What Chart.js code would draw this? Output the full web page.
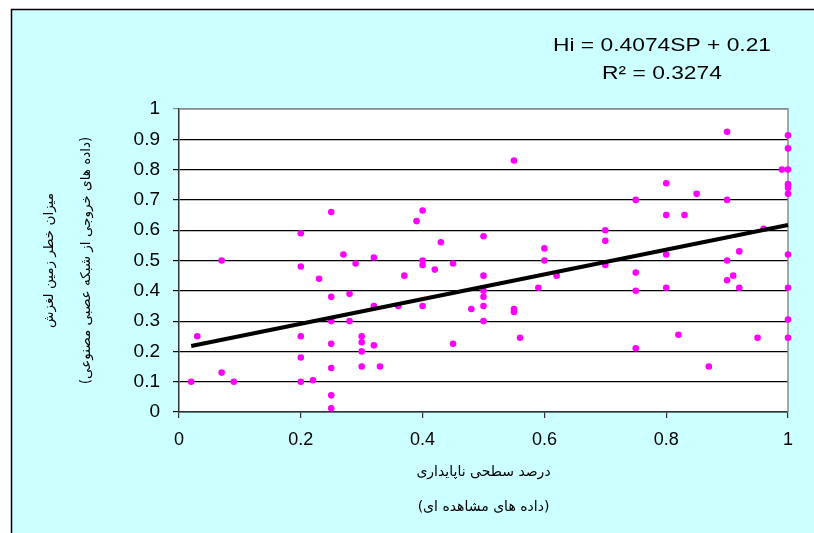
<!DOCTYPE html>
<html>
<head>
<meta charset="utf-8">
<script src="https://cdn.jsdelivr.net/npm/chart.js@4.4.1/dist/chart.umd.min.js"></script>
<style>
  html, body { margin: 0; padding: 0; background: #ffffff; }
  #wrap { width: 814px; height: 533px; position: relative; }
</style>
</head>
<body>
<div id="wrap"><canvas id="c"></canvas></div>
<script>
// ---- data ----
const spValues = [
  0.03, 0.02, 0.07, 0.07, 0.09, 0.20, 0.20, 0.20, 0.20, 0.20,
  0.22, 0.23, 0.25, 0.25, 0.25, 0.25, 0.25, 0.25, 0.25, 0.27,
  0.29, 0.28, 0.28, 0.30, 0.30, 0.30, 0.30, 0.32, 0.32, 0.32,
  0.33, 0.36, 0.37, 0.39, 0.40, 0.40, 0.40, 0.40, 0.42, 0.43,
  0.45, 0.45, 0.48, 0.50, 0.50, 0.50, 0.50, 0.50, 0.50, 0.55,
  0.55, 0.55, 0.56, 0.59, 0.60, 0.60, 0.62, 0.70, 0.70, 0.70,
  0.75, 0.75, 0.75, 0.75, 0.80, 0.80, 0.80, 0.80, 0.82, 0.83,
  0.85, 0.87, 0.90, 0.90, 0.90, 0.90, 0.91, 0.92, 0.92, 0.95,
  0.96, 0.99, 1.00, 1.00, 1.00, 1.00, 1.00, 1.00, 1.00, 1.00,
  1.00, 1.00
];
const hiValues = [
  0.25, 0.10, 0.50, 0.13, 0.10, 0.59, 0.48, 0.25, 0.18, 0.10,
  0.105, 0.44, 0.66, 0.38, 0.30, 0.225, 0.145, 0.055, 0.012, 0.52,
  0.49, 0.39, 0.30, 0.25, 0.23, 0.20, 0.15, 0.51, 0.35, 0.22,
  0.15, 0.35, 0.45, 0.63, 0.665, 0.50, 0.485, 0.35, 0.47, 0.56,
  0.49, 0.225, 0.34, 0.58, 0.45, 0.40, 0.38, 0.35, 0.30, 0.83,
  0.34, 0.33, 0.245, 0.41, 0.54, 0.50, 0.45, 0.60, 0.565, 0.485,
  0.70, 0.46, 0.40, 0.21, 0.755, 0.65, 0.52, 0.41, 0.255, 0.65,
  0.72, 0.15, 0.925, 0.70, 0.50, 0.435, 0.45, 0.53, 0.41, 0.245,
  0.605, 0.80, 0.913, 0.87, 0.80, 0.752, 0.74, 0.72, 0.52, 0.41,
  0.305, 0.245
];
const trendX = [0.02, 1.00];
const trendY = [0.218, 0.617];
const xTickLabels = ['0', '0.2', '0.4', '0.6', '0.8', '1'];
const yTickLabels = ['0', '0.1', '0.2', '0.3', '0.4', '0.5', '0.6', '0.7', '0.8', '0.9', '1'];
const xTitle = ['درصد سطحی ناپایداری', '(داده های مشاهده ای)'];
const yTitle = ['میزان خطر زمین لغزش', '(داده های خروجی از شبکه عصبی مصنوعی)'];
const equationLines = ['Hi = 0.4074SP + 0.21', 'R\u00B2 = 0.3274'];

// ---- build chart ----
const scatterPts = spValues.map((v, i) => ({ x: v, y: hiValues[i] }));
const trendPts = trendX.map((v, i) => ({ x: v, y: trendY[i] }));

const bgPlugin = {
  id: 'bg',
  beforeDraw(chart) {
    const { ctx, width, height, chartArea: a } = chart;
    ctx.save();
    ctx.fillStyle = '#ffffff';
    ctx.fillRect(0, 0, width, height);
    ctx.fillStyle = '#CCFFFF';
    ctx.fillRect(11, 9, width - 11, height - 9);
    ctx.strokeStyle = '#000000';
    ctx.lineWidth = 1.5;
    ctx.beginPath();
    ctx.moveTo(11.5, height);
    ctx.lineTo(11.5, 9.5);
    ctx.lineTo(width, 9.5);
    ctx.stroke();
    ctx.fillStyle = '#ffffff';
    ctx.fillRect(a.left, a.top, a.right - a.left, a.bottom - a.top);
    ctx.restore();
  },
  beforeDatasetsDraw(chart) {
    const { ctx, chartArea: a } = chart;
    ctx.save();
    ctx.strokeStyle = '#8c8c8c';
    ctx.lineWidth = 1.5;
    ctx.beginPath();
    ctx.moveTo(a.left, a.top);
    ctx.lineTo(a.right, a.top);
    ctx.lineTo(a.right, a.bottom);
    ctx.stroke();
    ctx.restore();
  },
  afterDraw(chart) {
    const { ctx, chartArea: a } = chart;
    ctx.save();
    ctx.fillStyle = '#000000';
    ctx.font = '19px "Liberation Sans", Arial, sans-serif';
    ctx.textAlign = 'center';
    ctx.textBaseline = 'middle';
    const cx = a.right - 126;
    const ys = [a.top - 63, a.top - 35];
    equationLines.forEach((t, i) => {
      ctx.save();
      ctx.translate(cx, ys[i]);
      ctx.scale(1.2, 1);
      ctx.fillText(t, 0, 0);
      ctx.restore();
    });
    ctx.restore();
  }
};

new Chart(document.getElementById('c'), {
  type: 'scatter',
  data: {
    datasets: [
      {
        type: 'line',
        data: trendPts,
        borderColor: '#000000',
        borderWidth: 4,
        pointRadius: 0,
        fill: false,
        order: 0,
        clip: false
      },
      {
        data: scatterPts,
        backgroundColor: '#FF00FF',
        borderColor: '#FF00FF',
        borderWidth: 0,
        pointRadius: 3.3,
        pointStyle: 'circle',
        order: 1,
        clip: false
      }
    ]
  },
  options: {
    responsive: true,
    maintainAspectRatio: false,
    animation: false,
    events: [],
    layout: { padding: { left: 0, right: 26, top: 109, bottom: 0 } },
    plugins: { legend: { display: false }, tooltip: { enabled: false } },
    scales: {
      x: {
        type: 'linear',
        min: 0, max: 1,
        afterFit(s) { s.height = 121; },
        ticks: {
          stepSize: 0.2,
          color: '#000000',
          padding: 11,
          maxRotation: 0,
          font: { family: '"Liberation Sans", Arial, sans-serif', size: 18 },
          callback: (v, i) => xTickLabels[i]
        },
        grid: { drawOnChartArea: false, drawTicks: true, tickLength: 6, color: '#333333', lineWidth: 1.2 },
        border: { display: true, color: '#333333', width: 1.5 },
        title: {
          display: true,
          text: xTitle,
          color: '#000000',
          font: { family: '"DejaVu Sans", sans-serif', size: 14, lineHeight: '35px' },
          padding: { top: 0, bottom: 8 }
        }
      },
      y: {
        type: 'linear',
        min: 0, max: 1,
        afterFit(s) { s.width = 179; },
        ticks: {
          stepSize: 0.1,
          color: '#000000',
          padding: 13,
          font: { family: '"Liberation Sans", Arial, sans-serif', size: 19 },
          callback: (v, i) => yTickLabels[i]
        },
        grid: {
          drawOnChartArea: true,
          drawTicks: true,
          tickLength: 6,
          color: (c) => (c.tick && c.tick.value === 1 ? '#8c8c8c' : '#000000'),
          lineWidth: 1.2
        },
        border: { display: true, color: '#333333', width: 1.5 },
        title: {
          display: true,
          text: yTitle,
          color: '#000000',
          font: { family: '"DejaVu Sans", sans-serif', size: 13.5, lineHeight: '37px' },
          padding: { top: 31, bottom: 0 }
        }
      }
    }
  },
  plugins: [bgPlugin]
});
</script>
</body>
</html>
